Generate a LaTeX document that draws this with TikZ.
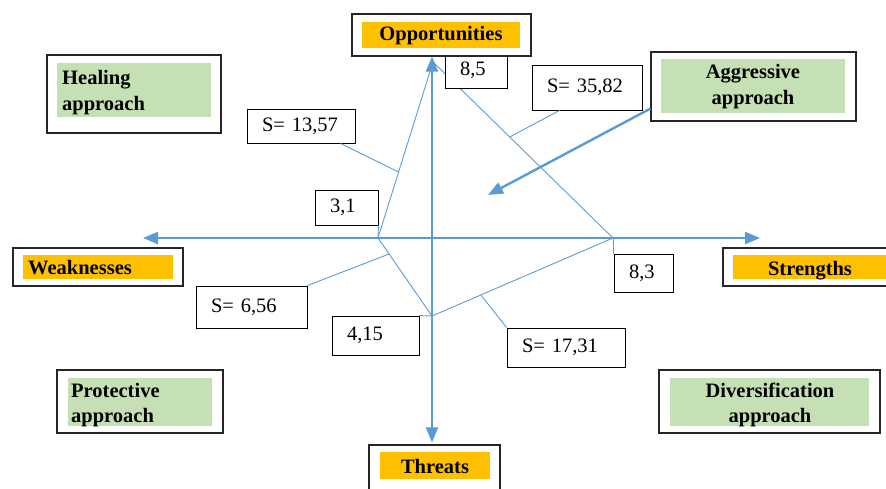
\documentclass[tikz,border=0pt]{standalone}
\usepackage{fontspec}
\setmainfont{Liberation Serif}
\usetikzlibrary{arrows.meta,calc}
\definecolor{axisblue}{HTML}{5B9BD5}
\definecolor{headorange}{HTML}{FFC000}
\definecolor{appgreen}{HTML}{C5E0B4}
\tikzset{
  frame/.style={draw=black!85, line width=1.2pt, fill=white, inner sep=0pt},
  headfill/.style={fill=headorange, inner sep=0pt},
  appfill/.style={fill=appgreen, inner sep=0pt},
  labeltext/.style={inner sep=0pt, font=\fontsize{20.5}{25.5}\selectfont\bfseries},
  valbox/.style={draw, line width=0.9pt, fill=white, inner xsep=15pt, inner ysep=0pt,
    align=left, font=\fontsize{20.5}{25}\selectfont},
  axis/.style={axisblue, line width=2.4pt},
  sideline/.style={axisblue, line width=0.9pt},
}
\begin{document}
\begin{tikzpicture}[x=1pt, y=-1pt, >={Triangle[length=15pt,width=12pt]}]
  \useasboundingbox (0,0) rectangle (886,488);
  % corners of the strategy polygon
  \coordinate (pO) at (433,62);
  \coordinate (pW) at (378,238);
  \coordinate (pS) at (613,238);
  \coordinate (pT) at (432,316);
  \coordinate (wtip) at (143,238);
  \coordinate (stip) at (760,238);
  \coordinate (aggtip) at (488,195);

  \draw[sideline] (pO) -- (pW) -- (pT) -- (pS) -- cycle;

  % value boxes
  \node[valbox, text width=32pt, minimum height=36] (v85) at (476,70) {8,5};
  \node[valbox, text width=33pt, minimum height=35] (v31) at (346.5,207.5) {3,1};
  \node[valbox, text width=29pt, minimum height=38] (v83) at (643.5,273) {8,3};
  \node[valbox, text width=57pt, minimum height=39] (v415) at (375.5,335.5) {4,15};
  \node[valbox, text width=80pt, minimum height=45] (s3582) at (587,87.5) {S= 35,82};
  \node[valbox, text width=78pt, minimum height=34] (s1357) at (301,126) {S= 13,57};
  \node[valbox, text width=81pt, minimum height=42] (s656) at (251.5,307) {S= 6,56};
  \node[valbox, text width=88pt, minimum height=39] (s1731) at (566,347.5) {S= 17,31};

  \draw[sideline] ([xshift=28pt]s3582.south west) -- ($(pO)!0.426!(pS)$);
  \draw[sideline] ([xshift=-15pt]s1357.south east) -- ($(pW)!0.375!(pO)$);
  \draw[sideline] (s656.north east) -- ($(pW)!0.205!(pT)$);
  \draw[sideline] (s1731.north west) -- ($(pS)!0.73!(pT)$);
  \draw[sideline] (pS) -- (pS |- v83.north);
  \draw[sideline] (v415.north east) -- (pT);
  \draw[sideline] (pW) -- (v31.south east);

  % axis labels
  \node[frame, minimum width=179, minimum height=42] (oppframe) at (441.5,35) {};
  \node[headfill, minimum width=158, minimum height=26] (oppfill) at (441,35) {};
  \node[labeltext, anchor=base] (opp) at (441,40) {Opportunities};

  \node[frame, minimum width=170, minimum height=38] (weakframe) at (98,267) {};
  \node[headfill, minimum width=150, minimum height=24] (weakfill) at (98,267) {};
  \node[labeltext, anchor=base west] (weak) at (28,274) {Weaknesses};

  \node[frame, minimum width=166, minimum height=38] (strframe) at (806,267) {};
  \node[headfill, minimum width=153, minimum height=24] (strfill) at (809.5,267) {};
  \node[labeltext, anchor=base] (str) at (810,275) {Strengths};

  \node[frame, minimum width=131, minimum height=47] (thrframe) at (434.5,468.5) {};
  \node[headfill, minimum width=110, minimum height=27] (thrfill) at (435,465.5) {};
  \node[labeltext, anchor=base] (thr) at (435,473) {Threats};

  % strategy quadrants
  \node[frame, minimum width=174, minimum height=78] (healframe) at (134,94) {};
  \node[appfill, minimum width=154, minimum height=54] (healfill) at (134,90) {};
  \node[labeltext, anchor=west, align=left] (heal) at (62,92.5) {Healing\\approach};

  \node[frame, minimum width=205, minimum height=69] (aggframe) at (753.5,86.5) {};
  \node[appfill, minimum width=184, minimum height=54] (aggfill) at (753,86) {};
  \node[labeltext, align=center] (agg) at (753,86.5) {Aggressive\\approach};

  \node[frame, minimum width=166, minimum height=63] (protframe) at (140,401.5) {};
  \node[appfill, minimum width=144, minimum height=48] (protfill) at (140,402) {};
  \begin{scope}
    \clip (protfill.south west) rectangle (protfill.north east);
    \node[labeltext, anchor=west, align=left] (prot) at (71,405) {Protective\\approach};
  \end{scope}

  \node[frame, minimum width=221, minimum height=63] (divframe) at (769.5,401.5) {};
  \node[appfill, minimum width=199, minimum height=48] (divfill) at (769.5,402) {};
  \begin{scope}
    \clip (divfill.south west) rectangle (divfill.north east);
    \node[labeltext, align=center] (div) at (770,405) {Diversification\\approach};
  \end{scope}

  % axes
  \draw[axis, <->] (oppframe.south -| pT) -- ([yshift=2pt]thrframe.north -| pT);
  \draw[axis, <->] (wtip) -- (stip);
  \draw[axis, ->] ([yshift=13pt]aggframe.south west) -- (aggtip);
\end{tikzpicture}
\end{document}
